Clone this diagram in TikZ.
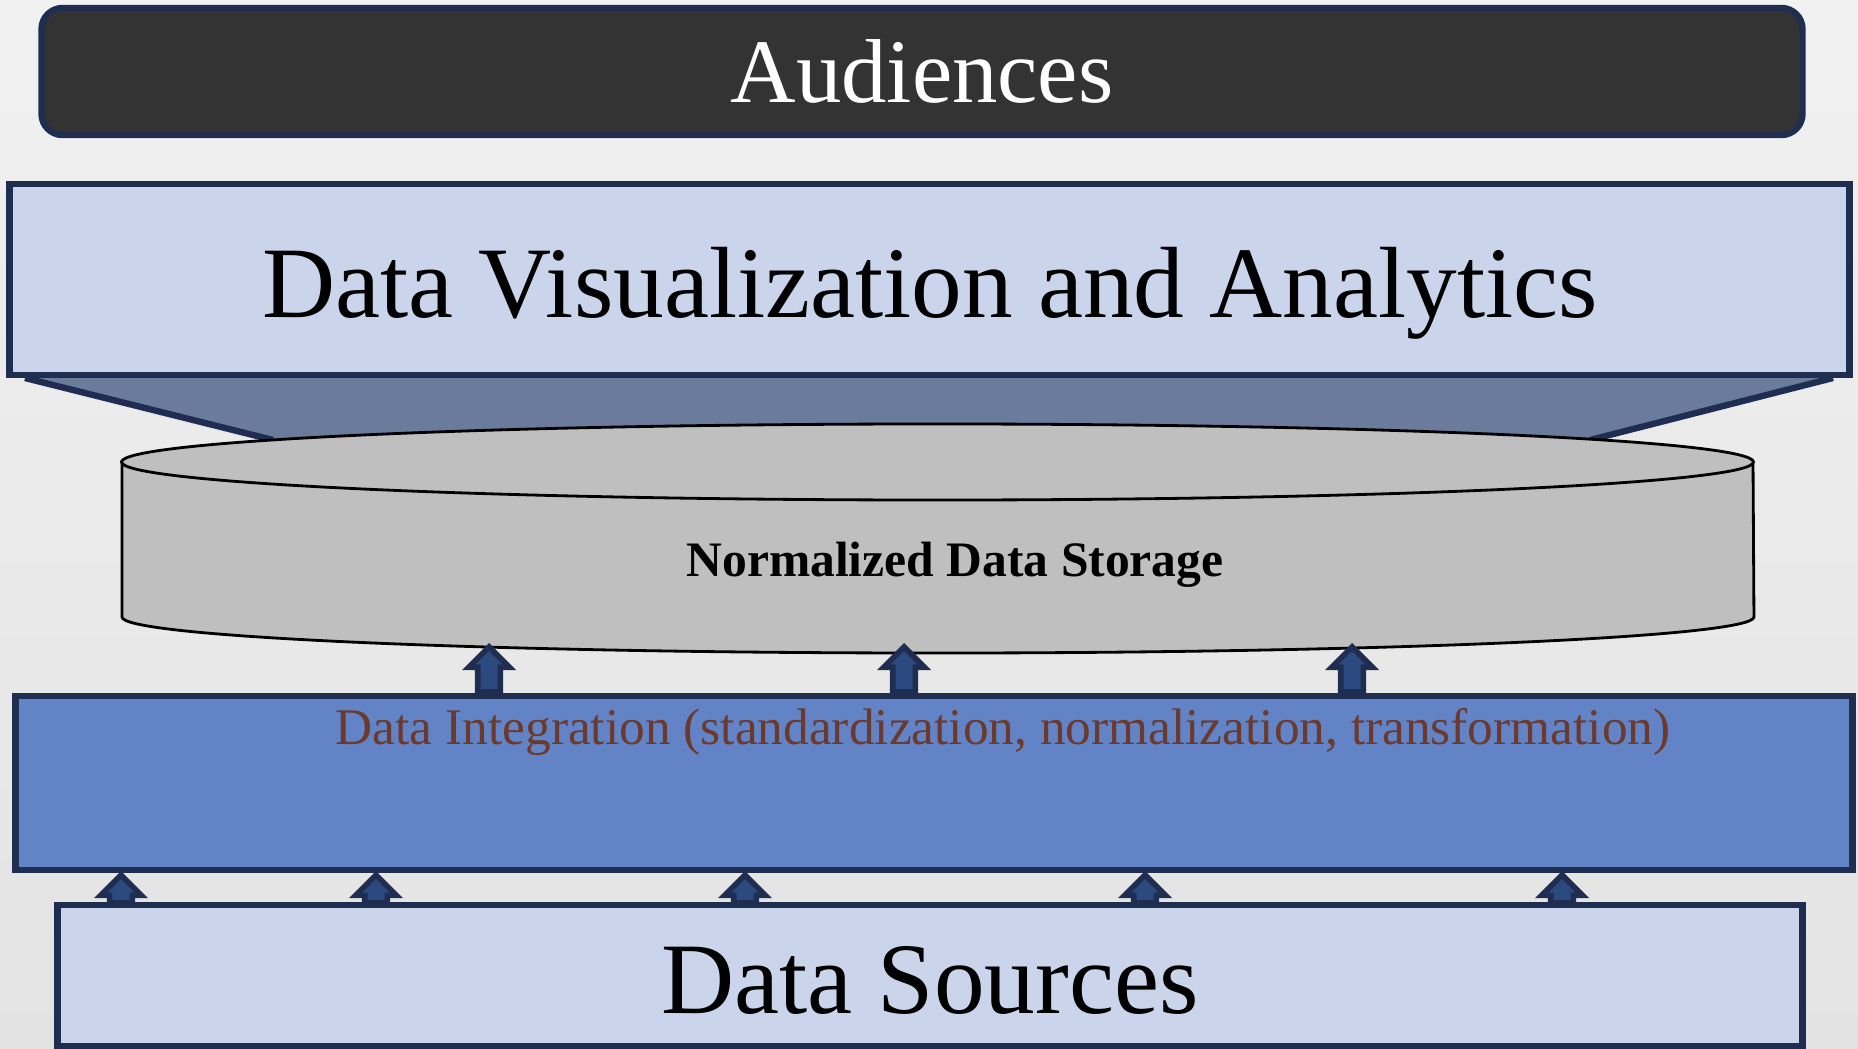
\documentclass[tikz,border=0pt]{standalone}
\usepackage{xcolor}
\usepackage{fontspec}
\setmainfont{Liberation Serif}
\usetikzlibrary{
    shapes.arrows
}
\definecolor{navyline}{HTML}{1F2D50}
\definecolor{darkfill}{HTML}{333333}
\definecolor{layerfill}{HTML}{CAD5EC}
\definecolor{funnelfill}{HTML}{6A7B9B}
\definecolor{storagefill}{HTML}{BFBFBF}
\definecolor{integfill}{HTML}{6283C6}
\definecolor{integtext}{HTML}{6B3A2C}
\definecolor{arrowfill}{HTML}{2B4A80}
\definecolor{pagetop}{HTML}{F1F1F1}
\definecolor{pagebottom}{HTML}{E3E3E3}
\tikzset{%
    frame line/.style={%
        draw=navyline,
        line width=1.8pt
    },
    layer box/.style={%
        rectangle,
        frame line,
        fill=layerfill,
        inner sep = 0pt,
        outer sep = 0pt
    },
    dark box/.style={%
        layer box,
        fill=darkfill,
        rounded corners=6pt
    },
    integration box/.style={%
        layer box,
        fill=integfill
    },
    storage/.style={%
        draw=black,
        line width=0.8pt,
        fill=storagefill
    },
    big text/.style={%
        inner sep = 0pt,
        anchor=base,
        font=\fontsize{28.8pt}{34pt}\selectfont
    },
    block arrow/.style={%
        single arrow,
        draw=navyline,
        fill=arrowfill,
        line width=1.6pt,
        inner xsep = 0.085cm,
        inner ysep = 0pt,
        outer sep = 0pt,
        single arrow head extend=0.09cm,
        shape border rotate=90,
        anchor=tail
    },
}

\begin{document}
\begin{tikzpicture}[x=0.01cm, y=-0.01cm]
    \useasboundingbox (0,0) rectangle (1858,1049);
    \fill[top color=pagetop, bottom color=pagebottom] (0,0) rectangle (1858,1049);

    % funnel from analytics down to the storage
    \fill[funnelfill] (25,378) -- (273,440) -- (1590,440) -- (1833,378) -- cycle;
    \draw[frame line] (25,378) -- (273,440);
    \draw[frame line] (1833,378) -- (1590,440);

    \node[dark box, minimum width=17.60cm, minimum height=1.27cm] (audiences) at (922,71.5) {};
    \node[big text, text=white, font=\fontsize{25.8pt}{30pt}\selectfont] (audiencesText) at (922,103) {Audiences};

    \node[layer box, minimum width=18.39cm, minimum height=1.91cm] (analytics) at (929.5,279.5) {};
    \node[big text] (analyticsText) at (930,318) {Data Visualization and Analytics};

    % storage cylinder
    \filldraw[storage] (122,462) -- (122,617)
        arc[start angle=180, end angle=360, x radius=8.155cm, y radius=0.36cm]
        -- (1753,462) -- cycle;
    \filldraw[storage] (937.5,462) ellipse[x radius=8.155cm, y radius=0.38cm];
    \node[inner sep=0pt, anchor=base, font=\fontsize{14.1pt}{17pt}\selectfont\bfseries] (storageText) at (955,576) {Normalized Data Storage};

    \node[integration box, minimum width=18.36cm, minimum height=1.74cm] (integration) at (934,783) {};
    \node[inner sep=0pt, anchor=base, text=integtext, font=\fontsize{14.6pt}{18pt}\selectfont] (integrationText) at (1003,744) {Data Integration (standardization, normalization, transformation)};

    \node[layer box, minimum width=17.44cm, minimum height=1.41cm] (sources) at (930,975.5) {};
    \node[big text] (sourcesText) at (930,1013) {Data Sources};

    % integration feeds the storage
    \node[block arrow, minimum height=0.45cm] (toStore1) at (489,692) {};
    \node[block arrow, minimum height=0.45cm] (toStore2) at (904,692) {};
    \node[block arrow, minimum height=0.45cm] (toStore3) at (1352,692) {};

    % sources feed the integration
    \node[block arrow, minimum height=0.28cm] (toInteg1) at (121,903) {};
    \node[block arrow, minimum height=0.28cm] (toInteg2) at (376,903) {};
    \node[block arrow, minimum height=0.28cm] (toInteg3) at (745,903) {};
    \node[block arrow, minimum height=0.28cm] (toInteg4) at (1145,903) {};
    \node[block arrow, minimum height=0.28cm] (toInteg5) at (1562,903) {};
\end{tikzpicture}
\end{document}
